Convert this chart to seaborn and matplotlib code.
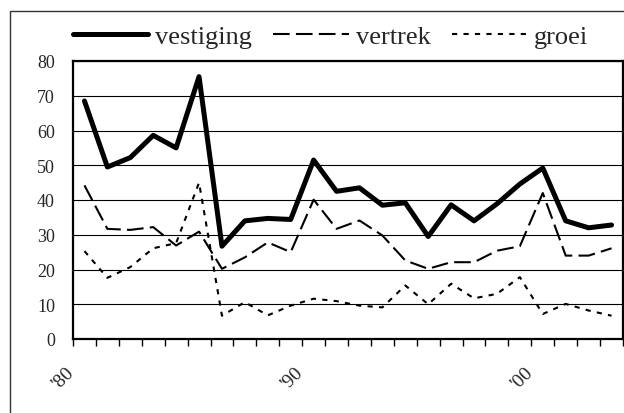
import numpy as np
import pandas as pd
import matplotlib
matplotlib.use('Agg')
import matplotlib.pyplot as plt
import seaborn as sns

years = list(range(1980, 2004))
vestiging = [68.5, 49.5, 52.2, 58.6, 55.0, 75.5, 26.7, 34.0, 34.7, 34.4, 51.5, 42.5,
             43.5, 38.5, 39.2, 29.5, 38.6, 34.0, 38.9, 44.6, 49.2, 34.0, 32.0, 32.8]
vertrek = [44.2, 31.7, 31.4, 32.2, 26.9, 30.9, 20.2, 23.5, 27.8, 25.0, 40.1, 31.7,
           34.1, 29.8, 22.6, 20.2, 22.1, 22.1, 25.4, 26.7, 42.0, 24.0, 24.0, 26.1]
groei = [25.3, 17.6, 20.7, 26.1, 27.6, 45.0, 6.7, 10.6, 6.8, 9.6, 11.6, 10.9,
         9.6, 9.1, 15.4, 10.0, 15.9, 11.7, 13.0, 17.8, 7.2, 10.1, 8.2, 6.7]
tick_labels = ["'80", "'90", "'00"]

df = pd.DataFrame({'pos': np.arange(len(years)), 'jaar': years,
                   'vestiging': vestiging, 'vertrek': vertrek, 'groei': groei})

sns.set_style('white')
plt.rcParams['font.family'] = ['Liberation Serif', 'DejaVu Serif']

fig = plt.figure(figsize=(6.24, 4.14), dpi=100)
ax = fig.add_axes([73/624, 74/414, 550/624, 278/414])

styles = {'vestiging': dict(lw=3.6, linestyle='-'),
          'vertrek': dict(lw=1.5, linestyle=(0, (8, 3))),
          'groei': dict(lw=1.5, linestyle=(0, (2.5, 3)))}
for name, st in styles.items():
    sns.lineplot(data=df, x='pos', y=name, ax=ax, color='black', label=name,
                 legend=False, **st)

ax.set_xlim(-0.5, len(years) - 0.5)
ax.set_ylim(0, 80)
ax.set_yticks(range(0, 81, 10))
ax.yaxis.grid(True, color='black', lw=0.8)
ax.set_xlabel('')
ax.set_ylabel('')

ax.set_xticks(np.arange(-0.5, len(years), 1))
ax.set_xticklabels([])
for lab, p in zip(tick_labels, [-0.3, 9.7, 19.7]):
    ax.text(p, -7.2, lab, rotation=45, ha='right', va='top', fontsize=14)
ax.tick_params(axis='x', direction='out', length=5, width=1, color='black', bottom=True)
ax.tick_params(axis='y', length=0, pad=13, labelsize=13)

for s in ax.spines.values():
    s.set_color('black')
    s.set_linewidth(1.6)

handles, labels = ax.get_legend_handles_labels()
fig.legend(handles, labels, loc='center left', bbox_to_anchor=(73/624, 1 - 37/414),
           ncol=3, frameon=False, fontsize=19, handlelength=2.85, handletextpad=0.27,
           columnspacing=0.8, borderpad=0, borderaxespad=0)

fig.add_artist(plt.Rectangle((10/624, -0.1), 1.2, 1.1 - 12/414,
                             transform=fig.transFigure, fill=False,
                             edgecolor='#333333', lw=1))

fig.savefig('out.png', dpi=100)
